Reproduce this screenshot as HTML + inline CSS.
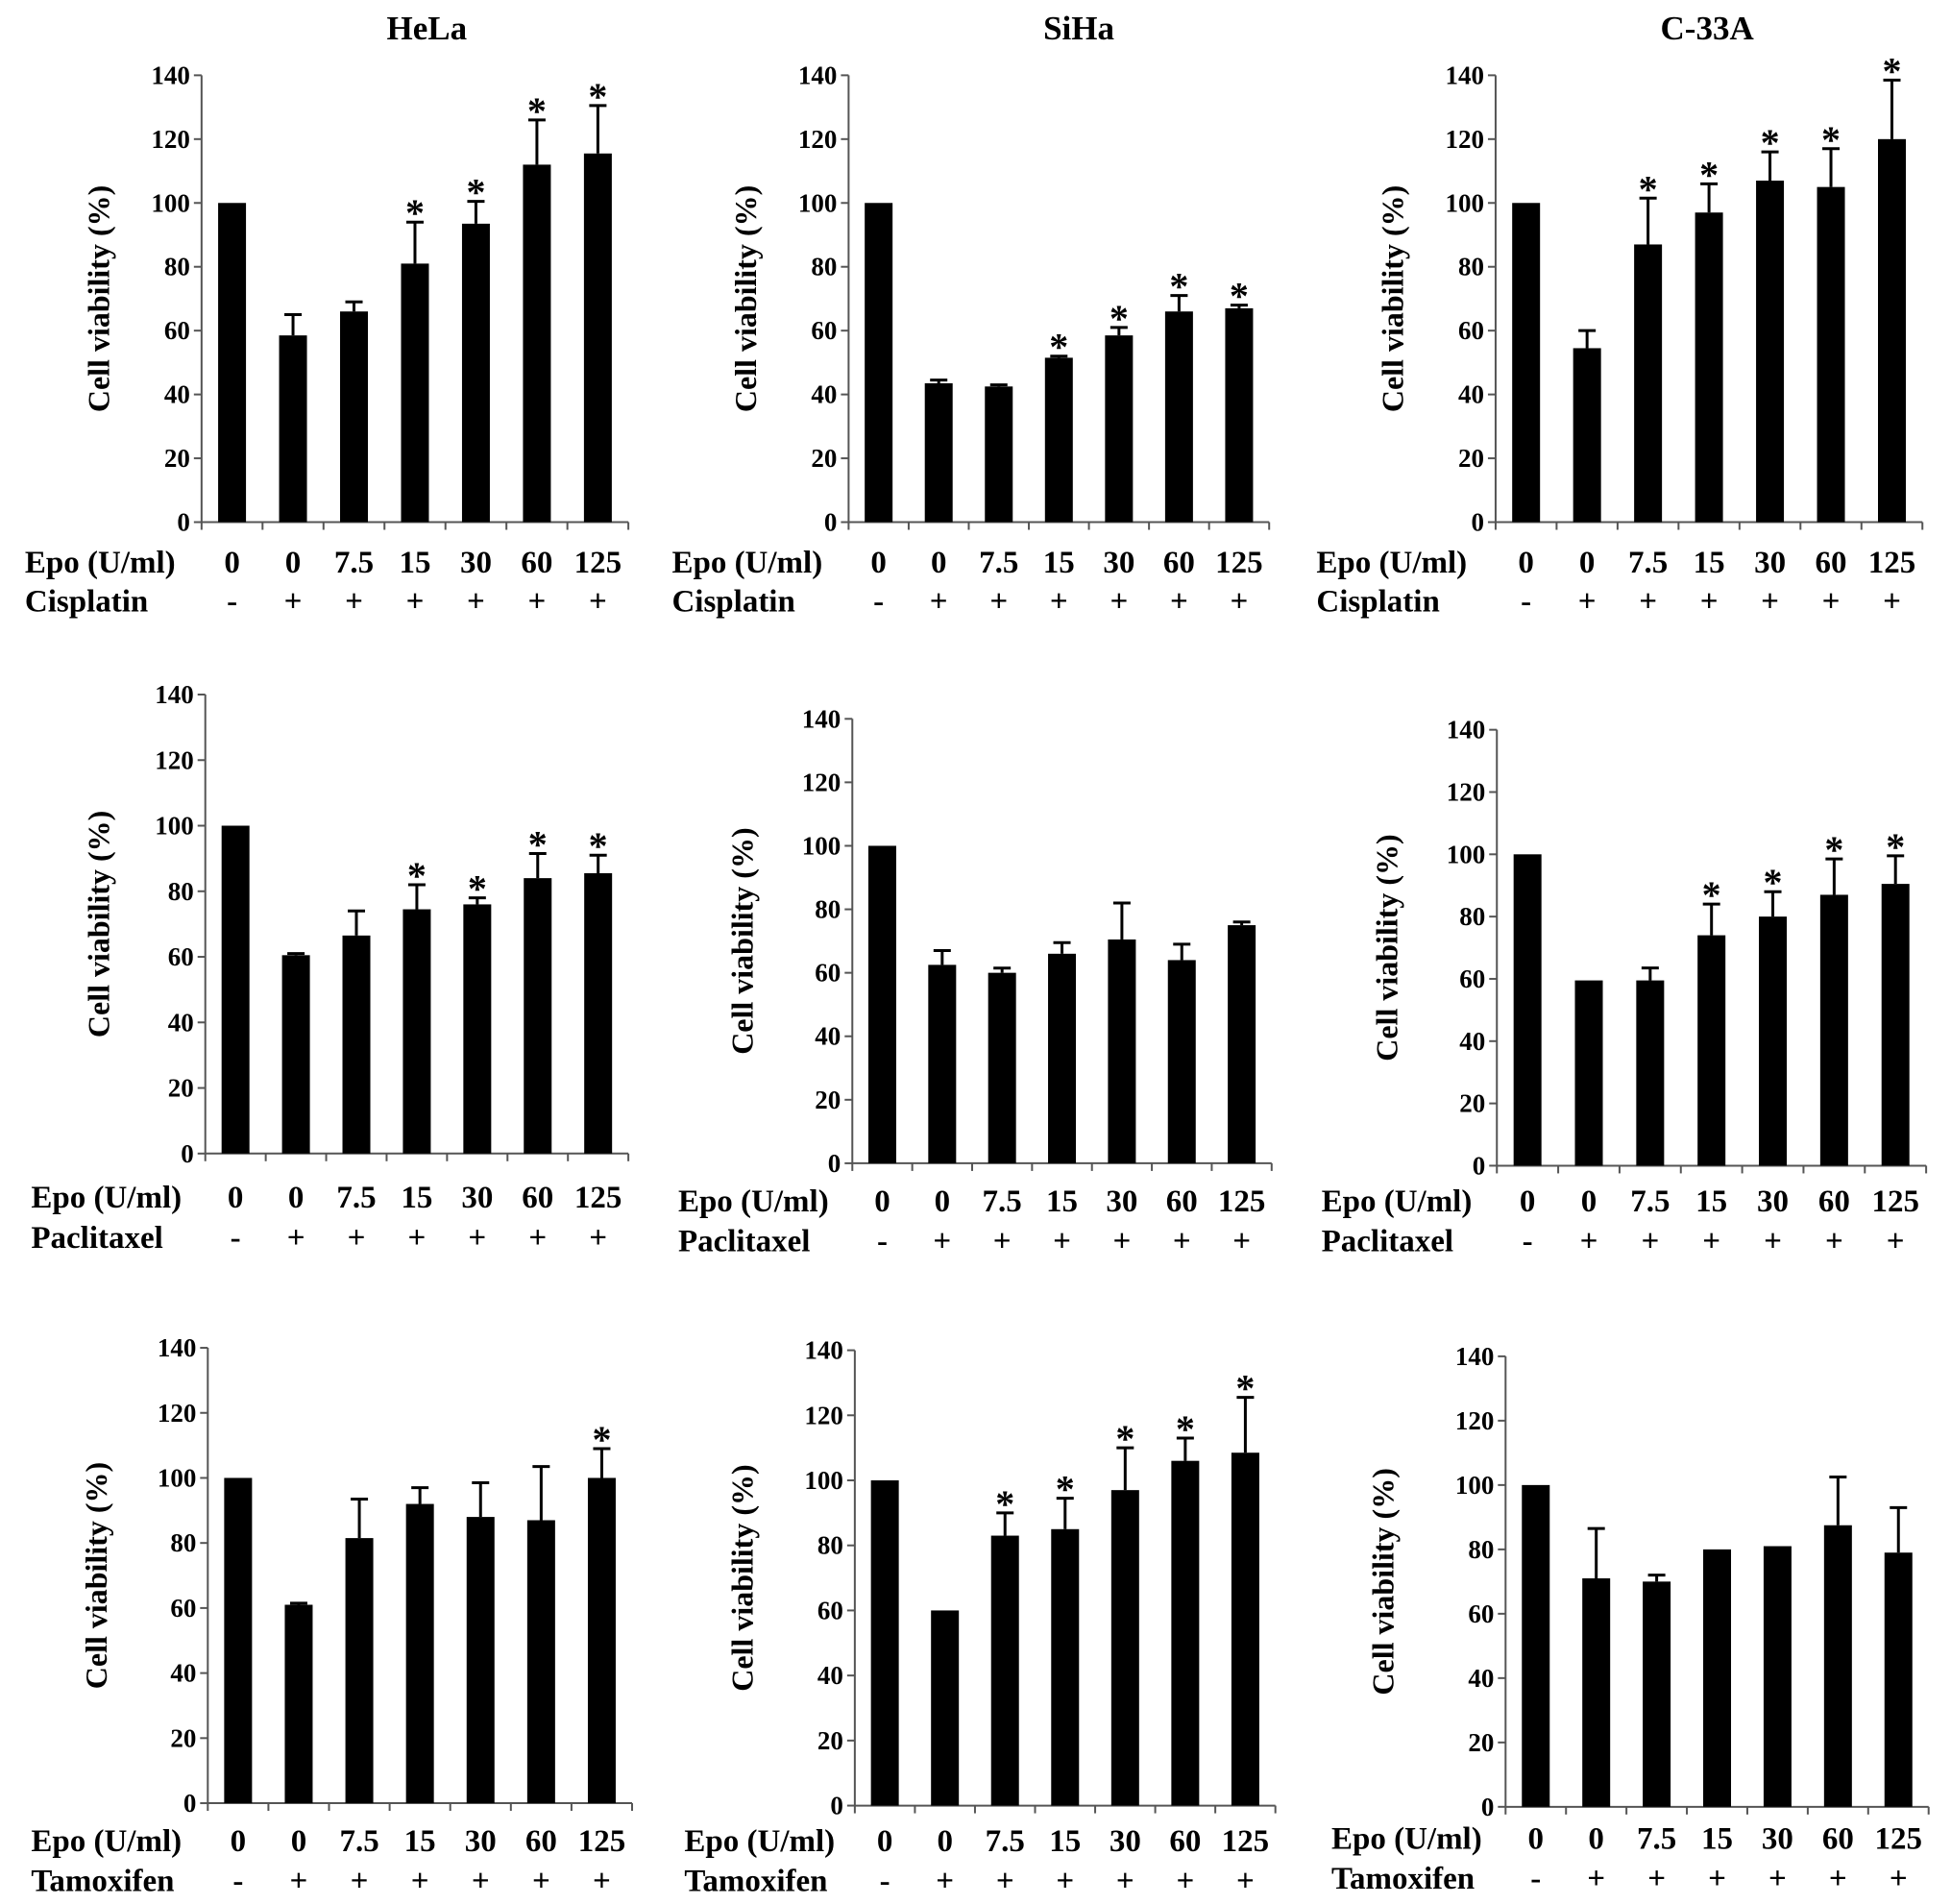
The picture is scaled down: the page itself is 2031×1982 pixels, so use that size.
<!DOCTYPE html>
<html><head><meta charset="utf-8"><style>
html,body{margin:0;padding:0;background:#fff;}
svg{display:block;}
svg text{font-family:"Liberation Serif","DejaVu Serif",serif !important;font-weight:bold;fill:#000;}
</style></head><body>
<svg id="fig" width="2031" height="1982" viewBox="0 0 2031 1982" xmlns="http://www.w3.org/2000/svg" font-family="Liberation Serif, serif" font-weight="bold"></svg>
<script>
const categories = ["0","0","7.5","15","30","60","125"];
const drugSigns = ["-","+","+","+","+","+","+"];
const yTicks = [0,20,40,60,80,100,120,140];
const cellLines = ["HeLa","SiHa","C-33A"];
const drugs = ["Cisplatin","Paclitaxel","Tamoxifen"];
const helaCis = [100,58.5,66,81,93.5,112,115.5];
const helaCisErr = [100,65,69,94,100.5,126,130.5];
const helaCisStar = [0,0,0,1,1,1,1];
const sihaCis = [100,43.5,42.5,51.5,58.5,66,67];
const sihaCisErr = [100,44.5,43,52,61,71,68];
const sihaCisStar = [0,0,0,1,1,1,1];
const c33Cis = [100,54.5,87,97,107,105,120];
const c33CisErr = [100,60,101.5,106,116,117,138.5];
const c33CisStar = [0,0,1,1,1,1,1];
const helaPac = [100,60.5,66.5,74.5,76,84,85.5];
const helaPacErr = [100,61,74,82,78,91.5,91];
const helaPacStar = [0,0,0,1,1,1,1];
const sihaPac = [100,62.5,60,66,70.5,64,75];
const sihaPacErr = [100,67,61.5,69.5,82,69,76];
const sihaPacStar = [0,0,0,0,0,0,0];
const c33Pac = [100,59.5,59.5,74,80,87,90.5];
const c33PacErr = [100,59.5,63.5,84,88,98.5,99.5];
const c33PacStar = [0,0,0,1,1,1,1];
const helaTam = [100,61,81.5,92,88,87,100];
const helaTamErr = [100,61.5,93.5,97,98.5,103.5,109];
const helaTamStar = [0,0,0,0,0,0,1];
const sihaTam = [100,60,83,85,97,106,108.5];
const sihaTamErr = [100,60,90,94.5,110,113,125.5];
const sihaTamStar = [0,0,1,1,1,1,1];
const c33Tam = [100,71,70,80,81,87.5,79];
const c33TamErr = [100,86.5,72,80,81,102.5,93];
const c33TamStar = [0,0,0,0,0,0,0];

const series = [
 [[helaCis,helaCisErr,helaCisStar],[sihaCis,sihaCisErr,sihaCisStar],[c33Cis,c33CisErr,c33CisStar]],
 [[helaPac,helaPacErr,helaPacStar],[sihaPac,sihaPacErr,sihaPacStar],[c33Pac,c33PacErr,c33PacStar]],
 [[helaTam,helaTamErr,helaTamStar],[sihaTam,sihaTamErr,sihaTamStar],[c33Tam,c33TamErr,c33TamStar]]
];
const SX=1.2953, SY=1.264;
const layout=[
 [[162,505,62,430,462,494,20,80],[682,1020,62,430,462,494,540,600],[1202,1545,62,430,462,494,1058,1120]],
 [[165,505,572,950,985,1018,25,80],[685,1022,592,958,988,1021,545,597],[1203,1548,601,960,988,1021,1062,1115]],
 [[167,508,1110,1485,1515,1548,25,78],[687,1025,1112,1487,1515,1548,550,597],[1210,1550,1117,1488,1513,1546,1070,1112]]
];
const titleX=[343,867,1372];
const NS="http://www.w3.org/2000/svg";
const svg=document.getElementById('fig');
const FF='"Liberation Serif", "DejaVu Serif", serif';
function el(tag,attrs,parent){const e=document.createElementNS(NS,tag);for(const k in attrs)e.setAttribute(k,attrs[k]);if(tag==='text'){e.setAttribute('font-family',FF);e.setAttribute('font-weight','bold');}(parent||svg).appendChild(e);return e;}

cellLines.forEach((n,c)=>{
 const t=el('text',{x:titleX[c]*SX,y:41,'font-size':35,'text-anchor':'middle'});
 t.textContent=n;
 
 
});

for(let r=0;r<3;r++)for(let c=0;c<3;c++){
 const L=layout[r][c];
 const ax=L[0]*SX, axE=L[1]*SX, yTop=L[2]*SY, y0=L[3]*SY;
 const g=el('g',{});
 
 
 const yS=v=>y0-(v/140)*(y0-yTop);
 const bw=(axE-ax)/categories.length;
 const xC=i=>ax+bw*(i+0.5);
 const ya=el('line',{x1:ax,y1:yTop,x2:ax,y2:y0,stroke:'#555','stroke-width':2},g);
 
 
 const xa=el('line',{x1:ax,y1:y0,x2:axE,y2:y0,stroke:'#555','stroke-width':2},g);
 
 
 yTicks.forEach(v=>{
  el('line',{x1:ax-8,y1:yS(v),x2:ax,y2:yS(v),stroke:'#555','stroke-width':2},g);
  const t=el('text',{x:ax-12,y:yS(v)+9,'font-size':27,'text-anchor':'end'},g);
  t.textContent=v;
  
  
 });
 for(let i=0;i<=categories.length;i++)el('line',{x1:ax+bw*i,y1:y0,x2:ax+bw*i,y2:y0+8,stroke:'#555','stroke-width':2},g);
 const yt=el('text',{x:0,y:0,'font-size':32,'text-anchor':'middle',transform:`translate(${L[7]*SX+10},${(yTop+y0)/2}) rotate(-90)`},g);
 yt.textContent='Cell viability (%)';
 
 
 const [vals,errs,stars]=series[r][c];
 vals.forEach((v,i)=>{
  const b=el('rect',{x:xC(i)-14.5,y:yS(v),width:29,height:y0-yS(v),fill:'#000'},g);
  
  
  if(errs[i]>v+0.3){
   el('line',{x1:xC(i),y1:yS(v),x2:xC(i),y2:yS(errs[i]),stroke:'#000','stroke-width':3},g);
   el('line',{x1:xC(i)-9,y1:yS(errs[i]),x2:xC(i)+9,y2:yS(errs[i]),stroke:'#000','stroke-width':3},g);
  }
  if(stars[i]){
   const s=el('text',{x:xC(i),y:yS(Math.max(errs[i],v))+4,'font-size':40,'text-anchor':'middle'},g);
   s.textContent='*';
   
   
  }
  const cl=el('text',{x:xC(i),y:L[4]*SY+12,'font-size':33,'text-anchor':'middle'},g);
  cl.textContent=categories[i];
  
  
  const ds=el('text',{x:xC(i),y:L[5]*SY+12,'font-size':33,'text-anchor':'middle'},g);
  ds.textContent=drugSigns[i];
  
  
 });
 const e=el('text',{x:L[6]*SX,y:L[4]*SY+12,'font-size':33},g);
 e.textContent='Epo (U/ml)';
 
 
 const d=el('text',{x:L[6]*SX,y:L[5]*SY+12,'font-size':33},g);
 d.textContent=drugs[r];
 
 
}
</script>
</body></html>
